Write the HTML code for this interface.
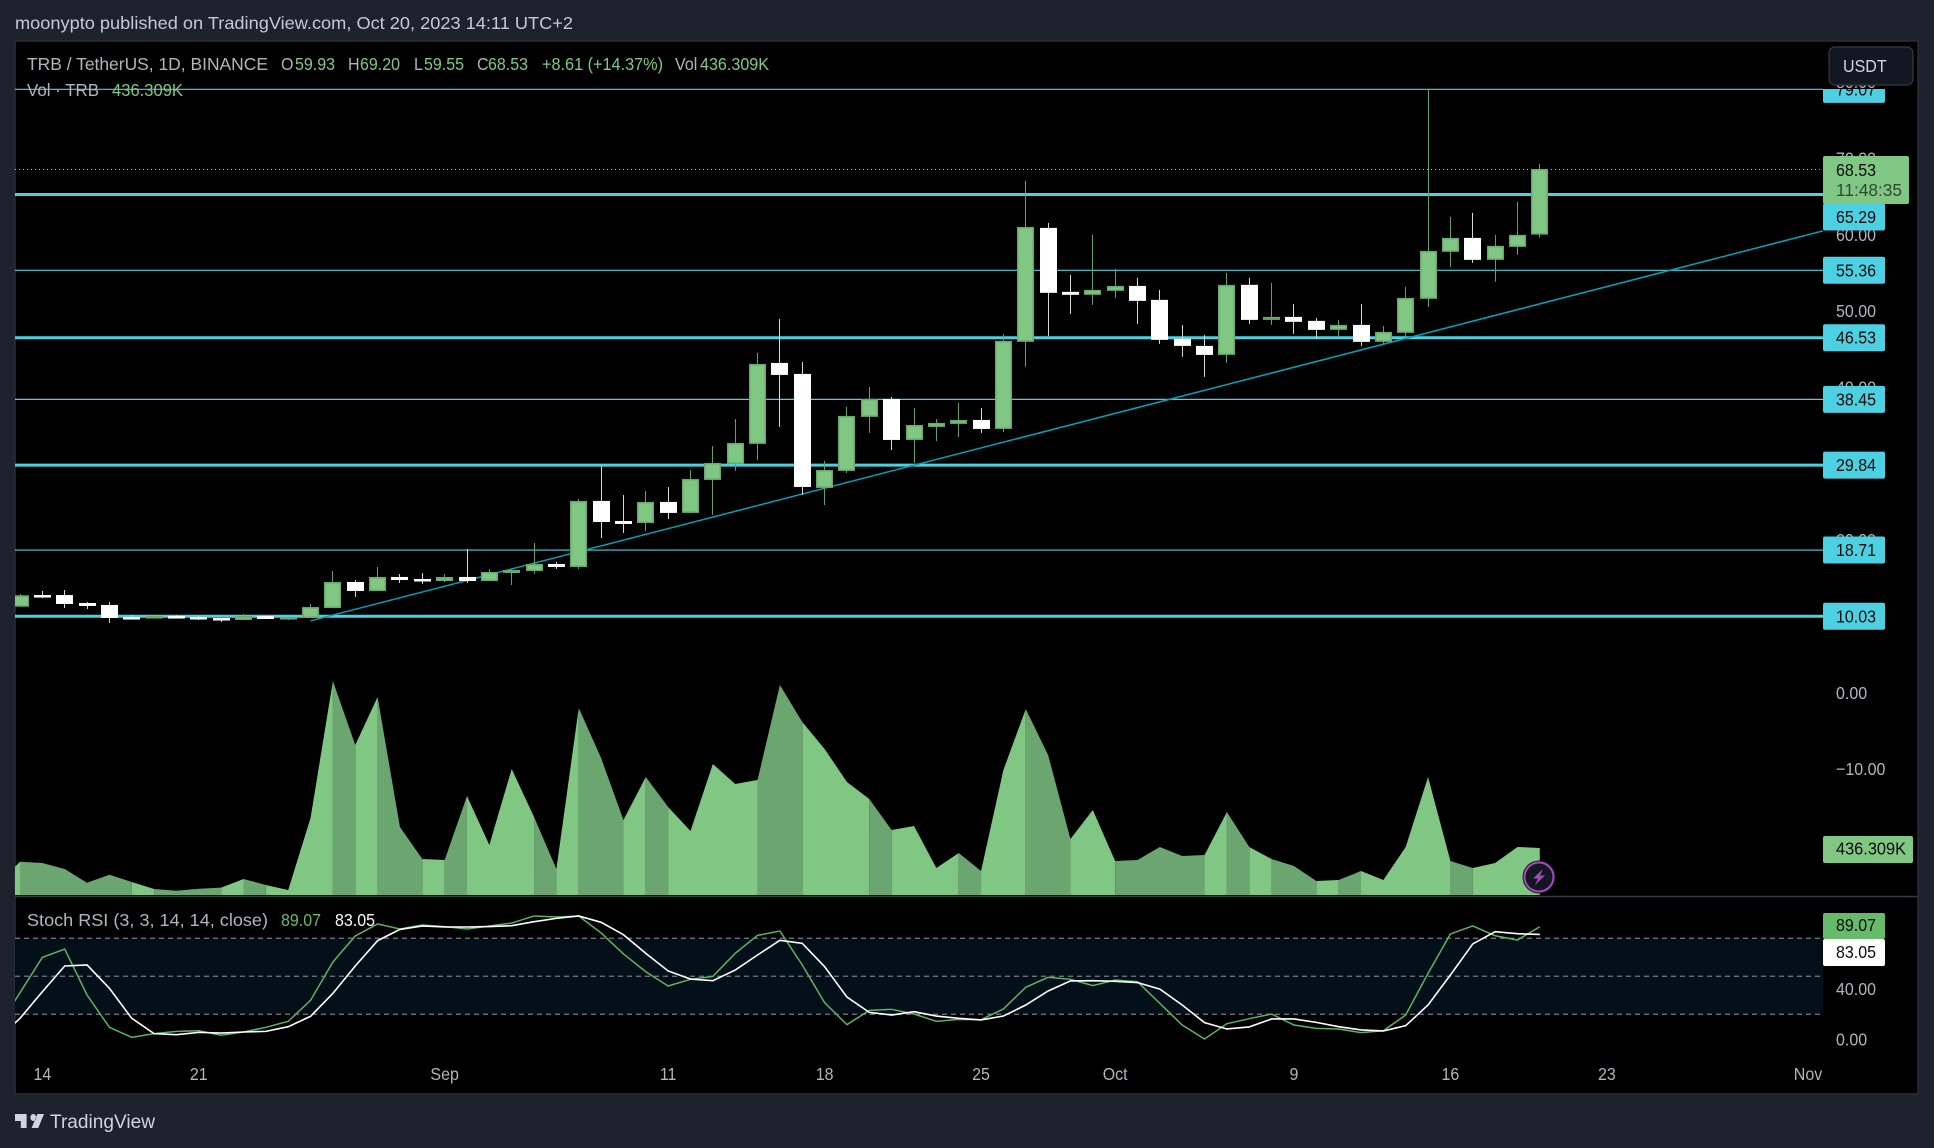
<!DOCTYPE html>
<html lang="en">
<head>
<meta charset="utf-8">
<title>TRB / TetherUS chart</title>
<style>
html,body{margin:0;padding:0;background:#1e222d;width:1934px;height:1148px;overflow:hidden}
svg{display:block}
text{font-family:"Liberation Sans",sans-serif;font-size:16px;dominant-baseline:central}
.t{fill:#b2b5be}
.g{fill:#81c784}
</style>
</head>
<body>
<svg id="root" xmlns="http://www.w3.org/2000/svg" width="1934" height="1148" viewBox="0 0 1934 1148">
<defs>
<clipPath id="plotClip"><rect x="15" y="41" width="1808" height="1053"/></clipPath>
<clipPath id="priceLabelClip"><rect x="1823" y="89" width="95" height="1005"/></clipPath>
<clipPath id="timeClip"><rect x="15" y="1050" width="1808" height="44"/></clipPath>
</defs>
<rect x="0" y="0" width="1934" height="1148" fill="#1e222d"/>
<rect x="15" y="41" width="1903" height="1053" fill="#000" stroke="#2a2e39" stroke-width="1.5"/>
<text x="15" y="23" fill="#c6c9d2" textLength="558" lengthAdjust="spacingAndGlyphs">moonypto published on TradingView.com, Oct 20, 2023 14:11 UTC+2</text>

<g id="bandLayer"></g>
<g id="levelLayer" clip-path="url(#plotClip)"></g>
<g id="candleLayer" clip-path="url(#plotClip)"></g>
<g id="volumeLayer" clip-path="url(#plotClip)"></g>
<line x1="15" x2="1918" y1="896.5" y2="896.5" stroke="#363a45" stroke-width="1.5"/>
<g id="stochLayer" clip-path="url(#plotClip)"></g>
<g id="tickLayer"></g>
<g id="timeLayer" clip-path="url(#timeClip)"></g>
<g id="labelLayer"></g>

<g>
<text x="27" y="64" class="t" textLength="241" lengthAdjust="spacingAndGlyphs">TRB / TetherUS, 1D, BINANCE</text>
<text x="281" y="64" class="t">O</text>
<text x="295" y="64" class="g">59.93</text>
<text x="348" y="64" class="t">H</text>
<text x="360" y="64" class="g">69.20</text>
<text x="414" y="64" class="t">L</text>
<text x="424" y="64" class="g">59.55</text>
<text x="477" y="64" class="t">C</text>
<text x="488" y="64" class="g">68.53</text>
<text x="542" y="64" class="g" textLength="121" lengthAdjust="spacingAndGlyphs">+8.61 (+14.37%)</text>
<text x="675" y="64" class="t">Vol</text>
<text x="700" y="64" class="g" textLength="69" lengthAdjust="spacingAndGlyphs">436.309K</text>
<text x="27" y="90" class="t" textLength="72" lengthAdjust="spacingAndGlyphs">Vol · TRB</text>
<text x="112" y="90" class="g" textLength="71" lengthAdjust="spacingAndGlyphs">436.309K</text>
</g>
<g>
<text x="27" y="920" class="t" textLength="241" lengthAdjust="spacingAndGlyphs">Stoch RSI (3, 3, 14, 14, close)</text>
<text x="281" y="920" fill="#66bb6a">89.07</text>
<text x="335" y="920" fill="#fff">83.05</text>
</g>

<g>
<rect x="1829" y="47" width="84" height="38" rx="6" fill="#131722" stroke="#363a45" stroke-width="1.2"/>
<text x="1843" y="66" fill="#d1d4dc">USDT</text>
</g>

<g>
<circle cx="1539" cy="877" r="16.5" fill="#131722"/>
<circle cx="1539" cy="877" r="14.5" fill="#131722" stroke="#ab47bc" stroke-width="2"/>
<path d="M1543 869 L1533 878.5 L1538 878.5 L1535 885 L1545 875.5 L1540 875.5 Z" fill="#ab47bc"/>
</g>

<g>
<path transform="translate(15,1108) scale(0.83,1)" d="M14 6H0v7h7v7h7V6Zm14 14h-8l7-14h8l-7 14Zm-6-7a3.5 3.5 0 1 0 0-7 3.5 3.5 0 0 0 0 7Z" fill="#d1d4dc"/>
<text x="50" y="1122" fill="#d1d4dc" style="font-size:18px" textLength="105" lengthAdjust="spacingAndGlyphs">TradingView</text>
</g>

<script>
const opens=[11.18,12.71,12.71,11.67,11.41,9.83,9.70,9.96,9.83,9.70,9.44,9.96,9.57,9.70,11.01,14.42,13.24,15.08,14.81,14.55,15.08,14.55,15.60,15.86,16.78,16.38,25.04,22.41,22.15,24.91,23.47,27.79,29.89,32.51,43.12,41.68,26.74,28.97,36.05,38.40,33.03,34.73,35.13,35.65,34.47,45.88,60.81,52.43,52.04,52.56,53.21,51.38,46.27,45.35,44.17,53.35,48.76,49.15,48.63,47.45,48.10,45.88,47.06,51.51,57.67,59.50,56.62,58.32,59.93];
const highs=[12.85,13.24,13.37,11.80,11.80,10.10,10.00,10.10,9.96,9.70,10.23,9.96,9.83,11.54,15.86,14.68,16.38,15.47,15.60,15.47,18.74,16.12,16.12,19.53,17.04,25.30,29.62,25.82,26.35,26.87,29.10,32.25,35.78,44.43,48.89,43.26,30.28,37.36,39.97,38.66,37.22,35.78,37.88,37.22,46.93,66.97,61.47,54.66,59.90,55.44,54.26,52.69,48.10,46.79,54.92,54.26,53.61,50.84,49.02,48.76,50.84,47.97,53.08,79.03,62.26,62.78,59.90,64.22,69.20];
const lows=[11.18,12.32,11.01,10.88,9.05,9.57,9.70,9.70,9.44,9.18,9.44,9.57,9.44,9.70,11.01,12.45,13.24,14.29,14.16,14.42,14.29,14.55,14.03,15.47,16.12,16.12,20.18,20.84,21.10,22.68,23.47,23.21,28.97,30.41,34.73,25.82,24.51,28.71,33.95,31.72,30.02,32.90,33.43,33.95,34.08,42.60,46.66,49.55,50.72,51.64,48.24,45.61,43.91,41.29,43.12,48.24,48.10,46.92,46.27,46.66,45.35,45.61,46.66,50.46,55.70,56.23,53.74,57.28,59.55];
const closes=[12.68,12.58,11.54,11.28,9.70,9.57,9.96,9.83,9.57,9.44,9.96,9.57,9.83,11.14,14.42,13.24,15.08,14.68,14.55,15.08,14.55,15.73,15.99,16.78,16.38,25.04,22.28,22.02,24.91,23.47,27.92,30.02,32.64,42.99,41.55,26.87,29.10,36.18,38.40,33.03,34.99,35.26,35.65,34.47,46.01,60.94,52.30,52.04,52.69,53.21,51.25,46.14,45.35,44.17,53.35,48.76,49.15,48.50,47.45,48.10,45.88,47.19,51.64,57.80,59.50,56.62,58.46,59.90,68.53];
const volumesK=[309,297,241,114,188,121,56,40,58,68,149,93,46,715,1987,1392,1838,631,334,325,919,464,1170,724,241,1736,1272,696,1095,817,594,1216,1030,1068,1949,1606,1355,1049,891,603,641,251,390,223,1160,1727,1300,520,789,316,325,446,362,371,771,446,334,269,130,139,223,139,446,1095,316,251,297,446,436.309];
const volumeBeforeStart=100;
const stochK=[37.05,64.9,71.5,35.2,9.7,1.8,4.7,6.5,7.0,3.4,6.0,9.7,14.4,31.0,61.3,81.8,91.3,87.3,90.5,89.2,87.3,89.7,92.0,97.6,96.8,97.6,84.2,67.6,53.6,42.3,47.6,49.9,68.1,82.3,85.7,58.9,29.2,11.8,23.1,23.9,20.2,14.4,16.0,15.7,24.2,41.3,49.2,47.6,42.6,47.0,45.7,28.6,11.5,0.5,12.6,16.5,20.2,11.5,8.9,8.4,5.5,7.0,19.4,52.3,83.4,89.7,82.0,78.6,89.07];
const stochKBeforeStart=8.9;
const stochD=[16.8,37.8,58.1,58.9,40.5,16.8,4.7,3.9,5.7,5.2,6.0,6.5,10.2,18.4,36.5,58.1,78.1,87.0,89.7,88.9,88.9,89.2,89.9,93.1,95.7,97.6,92.6,82.8,68.1,54.2,47.8,46.5,54.9,66.8,78.4,76.0,57.6,33.6,21.5,19.4,22.0,18.6,16.8,15.5,18.6,27.3,38.4,46.3,46.5,46.0,45.0,39.9,27.3,13.4,8.4,10.0,16.3,16.3,13.6,10.2,7.6,6.8,11.0,27.3,51.0,75.5,85.2,83.6,83.05];
const stochDBeforeStart=0.5;
const levelPrices=[79.07,65.29,55.36,46.53,38.45,29.84,18.71,10.03];
const strongLevels=[65.29,46.53,29.84,10.03];
const priceTicks=[80,70,60,50,40,30,20,10,0,-10];
const stochBands=[80,50,20];
const stochTicks=[40,0];
const timeLabels=["14","21","Sep","11","18","25","Oct","9","16","23","Nov"];
const timeLabelDays=[1,8,19,29,36,43,49,57,64,71,80];
const trendDays=[13,80.7];
const trendPrices=[9.44,60.55];
const lastPrice=68.53;
const countdown="11:48:35";
const lastVolumeLabel="436.309K";
const lastK=89.07;
const lastD=83.05;

const NS="http://www.w3.org/2000/svg";
const xOf=i=>20+22.35*i;
const yPrice=p=>616.3-(p-10.03)*7.633;
const yCandle=p=>yPrice(p)-0.8;
const yVol=v=>895-v*47/436.309;
const yStoch=v=>1039.6-v*1.2667;
const plotLeft=15,plotRight=1823;
const GREEN="#81c784",GREEN_EDGE="#69a96d",GREEN_DARK="#6ba56f",CYAN="#4dd0e1";

function mk(parent,tag,attrs,txt){
  const el=document.createElementNS(NS,tag);
  for(const k in attrs){el.setAttribute(k,attrs[k]);}
  if(txt!==undefined){el.textContent=txt;}
  document.getElementById(parent).appendChild(el);
  return el;
}

/* stoch band */
const bandEl=mk("bandLayer","rect",{x:plotLeft,y:yStoch(80),width:plotRight-plotLeft,height:yStoch(20)-yStoch(80),fill:"#03101a"});


stochBands.forEach(v=>{
  const d=mk("bandLayer","line",{x1:plotLeft,x2:plotRight,y1:yStoch(v),y2:yStoch(v),stroke:"#787b86","stroke-width":1.2,"stroke-dasharray":"5 4"});
  
  
});

/* last price dotted line */
const lastY=Math.floor(yPrice(lastPrice)-0.5)+0.5;
const dotted=mk("levelLayer","line",{x1:plotLeft,x2:plotRight,y1:lastY,y2:lastY,stroke:"#a5c8a8","stroke-width":1,"stroke-dasharray":"1 3"});



/* horizontal levels */
levelPrices.forEach(p=>{
  const l=mk("levelLayer","line",{x1:plotLeft,x2:plotRight,y1:yPrice(p),y2:yPrice(p),stroke:CYAN,"stroke-width":strongLevels.includes(p)?3:1.2});
  
  
});

/* trendline */
const trend=mk("levelLayer","line",{x1:xOf(trendDays[0]),y1:yPrice(trendPrices[0]),x2:xOf(trendDays[1]),y2:yPrice(trendPrices[1]),stroke:"#00a3b8","stroke-width":1.5});



/* candles */
opens.forEach((o,i)=>{
  const c=closes[i],up=c>=o,px=Math.floor(xOf(i));
  const wick=mk("candleLayer","line",{x1:px+0.5,x2:px+0.5,y1:yCandle(highs[i]),y2:yCandle(lows[i]),stroke:up?"#62a066":"#d8d8d8","stroke-width":1});
  
  
  const top=yCandle(Math.max(o,c)),bot=yCandle(Math.min(o,c));
  const inset=up?0.75:0;
  const body=mk("candleLayer","rect",{x:px-8+inset,y:top+inset,width:17-2*inset,height:Math.max(bot-top-2*inset,up?1:2.5),fill:up?GREEN:"#fff",stroke:up?GREEN_EDGE:"none","stroke-width":1.5});
  
  
});

/* volume area: consecutive days of the same direction merge into one shape */
let runUp=null,runTop=[];
function flushRun(){
  if(!runTop.length){return;}
  const first=runTop[0].split(",")[0],last=runTop[runTop.length-1].split(",")[0];
  const seg=mk("volumeLayer","polygon",{points:first+",895 "+runTop.join(" ")+" "+last+",895",fill:runUp?GREEN:GREEN_DARK});
  
  
}
volumesK.forEach((v,i)=>{
  const prev=i===0?volumeBeforeStart:volumesK[i-1];
  const up=closes[i]>=opens[i];
  if(up!==runUp){
    flushRun();
    runUp=up;
    runTop=[xOf(i-1)+","+yVol(prev)];
  }
  runTop.push(xOf(i)+","+yVol(v));
});
flushRun();

/* stoch lines */
function linePts(before,arr,yFn){
  const pts=[xOf(-1)+","+yFn(before)];
  arr.forEach((v,i)=>pts.push(xOf(i)+","+yFn(v)));
  return pts.join(" ");
}
const kLine=mk("stochLayer","polyline",{points:linePts(stochKBeforeStart,stochK,yStoch),fill:"none",stroke:"#5fb263","stroke-width":1.5});


const dLine=mk("stochLayer","polyline",{points:linePts(stochDBeforeStart,stochD,yStoch),fill:"none",stroke:"#fff","stroke-width":1.6});



/* axis ticks */
priceTicks.forEach(p=>{
  const txt=(p<0?"\u2212":"")+Math.abs(p).toFixed(2);
  const t=mk("tickLayer","text",{x:1836,y:yPrice(p),class:"t"},txt);
  
  
});
stochTicks.forEach(v=>{
  const t=mk("tickLayer","text",{x:1836,y:yStoch(v),class:"t"},v.toFixed(2));
  
  
});
timeLabels.forEach((s,i)=>{
  const t=mk("timeLayer","text",{x:xOf(timeLabelDays[i]),y:1074,class:"t","text-anchor":"middle"},s);
  
  
});

/* price labels */
function tag(yC,h,w,fill,txt,txtFill){
  const g=document.createElementNS(NS,"g");
  g.setAttribute("clip-path","url(#priceLabelClip)");
  document.getElementById("labelLayer").appendChild(g);
  const r=document.createElementNS(NS,"rect");
  r.setAttribute("x",1823);r.setAttribute("y",yC-h/2);r.setAttribute("width",w);r.setAttribute("height",h);r.setAttribute("rx",2);r.setAttribute("fill",fill);
  
  
  g.appendChild(r);
  const t=document.createElementNS(NS,"text");
  t.setAttribute("x",1836);t.setAttribute("y",yC);t.setAttribute("fill",txtFill);t.textContent=txt;
  
  
  g.appendChild(t);
}
levelPrices.forEach(p=>{
  const yc=p===65.29?217:yPrice(p);
  tag(yc,27,62,CYAN,p.toFixed(2),"#0b0b0b");
});
/* last price two-line tag */
const lastBox=mk("labelLayer","rect",{x:1823,y:156,width:86,height:48,rx:2,fill:GREEN});


const lastTxt=mk("labelLayer","text",{x:1836,y:yPrice(lastPrice),fill:"#0b0b0b"},lastPrice.toFixed(2));


const cdTxt=mk("labelLayer","text",{x:1836,y:190,fill:"#2d4a30",textLength:66,lengthAdjust:"spacingAndGlyphs"},countdown);


/* volume tag */
const vBox=mk("labelLayer","rect",{x:1823,y:yVol(volumesK[volumesK.length-1])-12,width:90,height:27,rx:2,fill:GREEN});


const vTxt=mk("labelLayer","text",{x:1836,y:yVol(volumesK[volumesK.length-1])+0.5,fill:"#0b0b0b",textLength:70,lengthAdjust:"spacingAndGlyphs"},lastVolumeLabel);


/* stoch tags */
const kBox=mk("labelLayer","rect",{x:1823,y:913,width:62,height:26,rx:2,fill:"#66bb6a"});


const kTxt=mk("labelLayer","text",{x:1836,y:925,fill:"#0b0b0b"},lastK.toFixed(2));


const dBox=mk("labelLayer","rect",{x:1823,y:939,width:62,height:27,rx:2,fill:"#fff"});


const dTxt=mk("labelLayer","text",{x:1836,y:952,fill:"#0b0b0b"},lastD.toFixed(2));



/* taller, narrower glyphs to match the reference typeface, widths kept */
document.querySelectorAll('#root text').forEach(t=>{
  if(!t.getAttribute('textLength')){
    t.setAttribute('textLength',t.getComputedTextLength().toFixed(1));
    t.setAttribute('lengthAdjust','spacingAndGlyphs');
  }
  t.style.fontSize=(parseFloat(getComputedStyle(t).fontSize)+1.5)+'px';
});
</script>
</svg>
</body>
</html>
